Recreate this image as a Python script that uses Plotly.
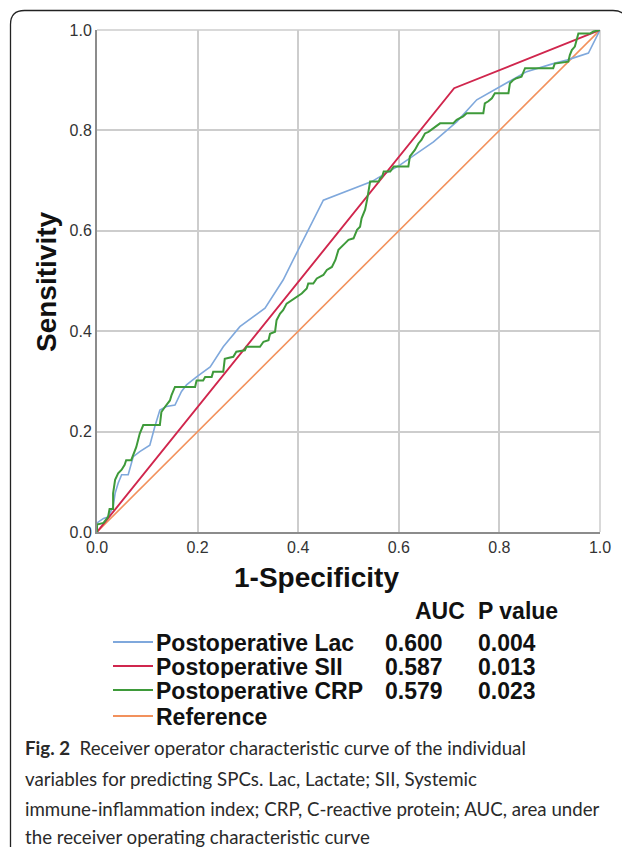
import plotly.graph_objects as go

# ---------------- data ----------------
lac_x = [0, 0, 0.013, 0.022, 0.032, 0.036, 0.042, 0.049, 0.062, 0.072, 0.085, 0.105, 0.115, 0.125,
         0.138, 0.155, 0.168, 0.178, 0.198, 0.225, 0.251, 0.284, 0.334, 0.370, 0.390, 0.450, 0.546,
         0.602, 0.669, 0.715, 0.755, 0.798, 0.854, 0.907, 0.934, 0.977, 1.0, 1.0]
lac_y = [0, 0.018, 0.027, 0.030, 0.050, 0.077, 0.097, 0.114, 0.114, 0.150, 0.160, 0.173, 0.210, 0.243,
         0.250, 0.253, 0.280, 0.293, 0.309, 0.329, 0.369, 0.409, 0.446, 0.502, 0.542, 0.661, 0.698,
         0.731, 0.777, 0.817, 0.861, 0.886, 0.917, 0.933, 0.940, 0.954, 0.997, 1.0]

sii_x = [0, 0.71, 1.0]
sii_y = [0, 0.884, 1.0]

crp_x = [0, 0, 0.013, 0.022, 0.025, 0.032, 0.032, 0.036, 0.042, 0.049, 0.055, 0.058, 0.068, 0.078,
         0.085, 0.092, 0.125, 0.128, 0.135, 0.145, 0.148, 0.155, 0.195, 0.198, 0.211, 0.215, 0.228,
         0.231, 0.251, 0.254, 0.271, 0.277, 0.294, 0.297, 0.324, 0.331, 0.341, 0.344, 0.354, 0.357,
         0.364, 0.370, 0.377, 0.387, 0.397, 0.407, 0.417, 0.420, 0.430, 0.437, 0.450, 0.457, 0.467,
         0.474, 0.480, 0.487, 0.493, 0.500, 0.510, 0.517, 0.523, 0.526, 0.533, 0.537, 0.540, 0.543,
         0.560, 0.563, 0.567, 0.570, 0.583, 0.590, 0.619, 0.622, 0.632, 0.639, 0.645, 0.652, 0.659,
         0.682, 0.708, 0.715, 0.728, 0.735, 0.768, 0.771, 0.778, 0.785, 0.791, 0.818, 0.821, 0.827,
         0.834, 0.844, 0.851, 0.907, 0.910, 0.937, 0.940, 0.944, 0.950, 0.954, 0.957, 0.980, 0.987, 1.0]
crp_y = [0, 0.015, 0.018, 0.030, 0.046, 0.046, 0.077, 0.104, 0.117, 0.124, 0.134, 0.143, 0.143, 0.169,
         0.196, 0.213, 0.213, 0.239, 0.249, 0.262, 0.272, 0.289, 0.289, 0.302, 0.302, 0.309, 0.309,
         0.319, 0.319, 0.345, 0.349, 0.359, 0.362, 0.369, 0.369, 0.379, 0.382, 0.395, 0.399, 0.422,
         0.435, 0.442, 0.455, 0.462, 0.468, 0.475, 0.485, 0.495, 0.495, 0.505, 0.512, 0.522, 0.528,
         0.542, 0.562, 0.568, 0.575, 0.582, 0.585, 0.602, 0.608, 0.625, 0.642, 0.662, 0.682, 0.698,
         0.698, 0.705, 0.708, 0.718, 0.718, 0.728, 0.728, 0.748, 0.761, 0.774, 0.781, 0.794, 0.797,
         0.814, 0.814, 0.821, 0.828, 0.834, 0.834, 0.854, 0.858, 0.864, 0.874, 0.874, 0.894, 0.900,
         0.904, 0.907, 0.924, 0.924, 0.933, 0.937, 0.950, 0.960, 0.967, 0.980, 0.993, 0.993, 0.997, 1.0]

ref_x = [0, 1]
ref_y = [0, 1]

series_names = ["Postoperative Lac", "Postoperative SII", "Postoperative CRP", "Reference"]
auc_values = ["0.600", "0.587", "0.579", ""]
p_values = ["0.004", "0.013", "0.023", ""]
tick_vals = [0, 0.2, 0.4, 0.6, 0.8, 1.0]
tick_text = ["0.0", "0.2", "0.4", "0.6", "0.8", "1.0"]

caption_lines = [
    "<b>Fig. 2</b>  Receiver operator characteristic curve of the individual",
    "variables for predicting SPCs. Lac, Lactate; SII, Systemic",
    "immune-inflammation index; CRP, C-reactive protein; AUC, area under",
    "the receiver operating characteristic curve",
]

# ---------------- geometry (page has an 8px body margin) ----------------
OFF = 8
W, H = 630 - OFF, 847 - OFF
L, T = 97 - OFF, 30 - OFF
R = W - (600 - OFF)
B = H - (532 - OFF)
PW, PH = W - L - R, H - T - B

def px(xp):
    """target-picture x pixel -> paper coordinate"""
    return (xp - OFF - L) / PW

def py(yp):
    """target-picture y pixel -> paper coordinate"""
    return (H - B - (yp - OFF)) / PH

colors = ["#7fa8dc", "#d0264d", "#3e9a3a", "#f2915c"]
widths = [1.6, 1.9, 2.0, 1.6]
FONT = "Liberation Sans, Arial, sans-serif"

fig = go.Figure()
fig.add_trace(go.Scatter(x=ref_x, y=ref_y, mode="lines", name=series_names[3],
                         line=dict(color=colors[3], width=widths[3])))
fig.add_trace(go.Scatter(x=lac_x, y=lac_y, mode="lines", name=series_names[0],
                         line=dict(color=colors[0], width=widths[0])))
fig.add_trace(go.Scatter(x=sii_x, y=sii_y, mode="lines", name=series_names[1],
                         line=dict(color=colors[1], width=widths[1])))
fig.add_trace(go.Scatter(x=crp_x, y=crp_y, mode="lines", name=series_names[2],
                         line=dict(color=colors[2], width=widths[2])))

axis_common = dict(range=[0, 1], tickvals=tick_vals, ticktext=tick_text, showgrid=True,
                   gridcolor="#cdcdcd", gridwidth=1.5, zeroline=False, showline=True,
                   linecolor="#8c8c8c", linewidth=2, ticks="",
                   tickfont=dict(family=FONT, size=16, color="#333333"))
fig.update_xaxes(**axis_common)
fig.update_yaxes(**axis_common)

shapes = []
shapes.append(dict(type="line", xref="paper", yref="paper", x0=0, x1=1, y0=1, y1=1,
                   line=dict(color="#cdcdcd", width=1.5), layer="below"))
shapes.append(dict(type="line", xref="paper", yref="paper", x0=1, x1=1, y0=0, y1=1,
                   line=dict(color="#cdcdcd", width=1.5), layer="below"))

# outer rounded frame (open at the bottom, cut by the picture edge)
x0, x1, y0, y1, r = px(10.5), px(627), py(10.5), py(850), 14
rx, ry = r / PW, r / PH
path = (f"M {x0},{y1} L {x0},{y0 - ry} Q {x0},{y0} {x0 + rx},{y0} "
        f"L {x1 - rx},{y0} Q {x1},{y0} {x1},{y0 - ry} L {x1},{y1}")
shapes.append(dict(type="path", xref="paper", yref="paper", path=path,
                   line=dict(color="#222222", width=1.3)))

annotations = []
title_font = dict(family=FONT, size=28, color="#111111")
annotations.append(dict(xref="paper", yref="paper", x=px(46), y=py(282), text="<b>Sensitivity</b>",
                        textangle=-90, showarrow=False, xanchor="center", yanchor="middle",
                        font=title_font))
annotations.append(dict(xref="paper", yref="paper", x=px(316), y=py(577), text="<b>1-Specificity</b>",
                        showarrow=False, xanchor="center", yanchor="middle", font=title_font))

leg_font = dict(family=FONT, size=23, color="#111111")
BOX_H = 23
annotations.append(dict(xref="paper", yref="paper", x=px(440), y=py(610), text="<b>AUC</b>",
                        showarrow=False, xanchor="center", yanchor="middle", font=leg_font,
                        height=BOX_H, borderpad=0))
annotations.append(dict(xref="paper", yref="paper", x=px(477), y=py(610), text="<b>P value</b>",
                        showarrow=False, xanchor="left", yanchor="middle", font=leg_font,
                        height=BOX_H, borderpad=0))
row_y = [642, 666, 690, 716]
for i, name in enumerate(series_names):
    yy = py(row_y[i])
    shapes.append(dict(type="line", xref="paper", yref="paper", x0=px(113), x1=px(153),
                       y0=yy, y1=yy, line=dict(color=colors[i], width=2)))
    annotations.append(dict(xref="paper", yref="paper", x=px(155), y=yy, text=f"<b>{name}</b>",
                            xanchor="left", yanchor="middle", showarrow=False, font=leg_font,
                            height=BOX_H, borderpad=0))
    if auc_values[i]:
        annotations.append(dict(xref="paper", yref="paper", x=px(384), y=yy,
                                text=f"<b>{auc_values[i]}</b>", xanchor="left", yanchor="middle",
                                showarrow=False, font=leg_font, height=BOX_H, borderpad=0))
        annotations.append(dict(xref="paper", yref="paper", x=px(477), y=yy,
                                text=f"<b>{p_values[i]}</b>", xanchor="left", yanchor="middle",
                                showarrow=False, font=leg_font, height=BOX_H, borderpad=0))

cap_y = [748, 779, 809, 837]
for line_text, yy in zip(caption_lines, cap_y):
    annotations.append(dict(xref="paper", yref="paper", x=px(23), y=py(yy), text=line_text,
                            xanchor="left", yanchor="middle", showarrow=False,
                            font=dict(family="Lato, sans-serif", size=18.7, color="#2a2a2a")))

fig.update_layout(width=W, height=H, margin=dict(l=L, r=R, t=T, b=B, autoexpand=False),
                  paper_bgcolor="white", plot_bgcolor="white", showlegend=False,
                  shapes=shapes, annotations=annotations)

fig.write_html("out.html")
